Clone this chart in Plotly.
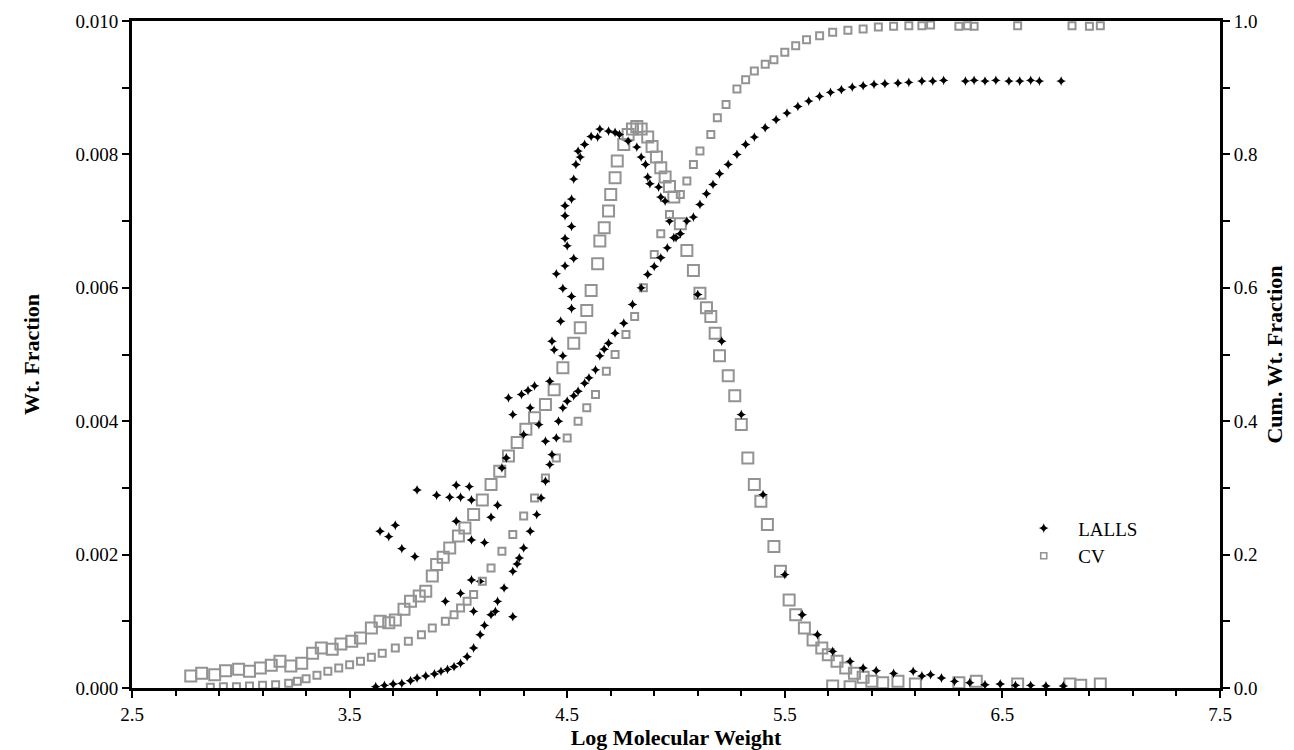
import plotly.graph_objects as go

# ---- data ----
lalls_diff_x = [3.64, 3.68, 3.71, 3.74, 3.80, 3.81, 3.90, 3.94, 3.96, 3.99, 3.99, 4.01, 4.01, 4.05, 4.06, 4.06,
                4.06, 4.07, 4.10, 4.12, 4.15, 4.17, 4.18, 4.20, 4.22, 4.23, 4.25, 4.27, 4.25, 4.29, 4.30, 4.32,
                4.33, 4.35, 4.37, 4.40, 4.42, 4.43, 4.44, 4.45, 4.47, 4.48, 4.48, 4.49, 4.49, 4.49, 4.49, 4.50,
                4.52, 4.52, 4.52, 4.52, 4.53, 4.53, 4.54, 4.55, 4.56, 4.58, 4.61, 4.64, 4.65, 4.69, 4.72, 4.74,
                4.78, 4.82, 4.84, 4.86, 4.87, 4.88, 4.92, 4.93, 4.95, 4.97, 4.99, 5.10, 5.21, 5.30, 5.40, 5.50,
                5.58, 5.65, 5.72, 5.80, 5.86, 5.92, 6.00, 6.09, 6.13, 6.17, 6.22, 6.28, 6.35, 6.42, 6.49, 6.56,
                6.63, 6.70, 6.78]
lalls_diff_y = [0.00235, 0.00227, 0.00244, 0.00209, 0.00197, 0.00297, 0.00289, 0.00130, 0.00286, 0.00304,
                0.00250, 0.00286, 0.00142, 0.00302, 0.00282, 0.00222, 0.00162, 0.00115, 0.00160, 0.00218,
                0.00256, 0.00115, 0.00274, 0.00330, 0.00345, 0.00435, 0.00107, 0.00186, 0.00410, 0.00440,
                0.00380, 0.00446, 0.00420, 0.00453, 0.00395, 0.00370, 0.00460, 0.00520, 0.00507, 0.00621,
                0.00550, 0.00498, 0.00599, 0.00633, 0.00674, 0.00708, 0.00723, 0.00663, 0.00569, 0.00587,
                0.00692, 0.00733, 0.00644, 0.00763, 0.00785, 0.00805, 0.00796, 0.00815, 0.00827, 0.00826,
                0.00838, 0.00835, 0.00833, 0.00830, 0.00820, 0.00811, 0.00796, 0.00785, 0.00766, 0.00756,
                0.00751, 0.00736, 0.00730, 0.00700, 0.00675, 0.00590, 0.00520, 0.00410, 0.00290, 0.00170,
                0.00110, 0.00080, 0.00055, 0.00040, 0.00030, 0.00026, 0.00022, 0.00025, 0.00018, 0.00020,
                0.00015, 0.00010, 0.00008, 0.00005, 0.00006, 0.00004, 0.00004, 0.00003, 0.00003]

cv_diff_x = [2.77, 2.82, 2.88, 2.93, 2.99, 3.04, 3.09, 3.14, 3.18, 3.23, 3.28, 3.33, 3.37, 3.42, 3.46, 3.51,
             3.55, 3.60, 3.64, 3.68, 3.71, 3.75, 3.78, 3.82, 3.85, 3.88, 3.90, 3.93, 3.96, 4.00, 4.03, 4.07,
             4.11, 4.15, 4.19, 4.23, 4.27, 4.31, 4.35, 4.40, 4.44, 4.48, 4.53, 4.56, 4.59, 4.61, 4.64, 4.65,
             4.67, 4.69, 4.70, 4.72, 4.73, 4.76, 4.78, 4.80, 4.82, 4.84, 4.87, 4.89, 4.91, 4.93, 4.95, 4.97,
             4.99, 5.02, 5.05, 5.08, 5.11, 5.14, 5.16, 5.18, 5.20, 5.24, 5.27, 5.30, 5.33, 5.36, 5.39, 5.42,
             5.45, 5.48, 5.52, 5.55, 5.59, 5.63, 5.67, 5.70, 5.72, 5.74, 5.78, 5.80, 5.82, 5.86, 5.90, 5.95,
             6.02, 6.10, 6.30, 6.38, 6.57, 6.81, 6.86, 6.95]
cv_diff_y = [0.00018, 0.00022, 0.00020, 0.00026, 0.00028, 0.00025, 0.00030, 0.00034, 0.00040, 0.00033,
             0.00037, 0.00052, 0.00060, 0.00058, 0.00066, 0.00070, 0.00075, 0.00090, 0.00100, 0.00098,
             0.00102, 0.00118, 0.00130, 0.00138, 0.00145, 0.00168, 0.00185, 0.00196, 0.00210, 0.00228,
             0.00240, 0.00260, 0.00282, 0.00305, 0.00325, 0.00348, 0.00368, 0.00388, 0.00405, 0.00425,
             0.00447, 0.00480, 0.00517, 0.00540, 0.00566, 0.00596, 0.00636, 0.00670, 0.00690, 0.00715,
             0.00740, 0.00765, 0.00790, 0.00815, 0.00830, 0.00838, 0.00842, 0.00838, 0.00826, 0.00812,
             0.00796, 0.00780, 0.00766, 0.00752, 0.00736, 0.00696, 0.00656, 0.00626, 0.00592, 0.00570,
             0.00557, 0.00532, 0.00498, 0.00468, 0.00438, 0.00395, 0.00345, 0.00305, 0.00280, 0.00245,
             0.00212, 0.00175, 0.00132, 0.00110, 0.00090, 0.00072, 0.00060, 0.00050, 0.00003, 0.00040,
             0.00030, 0.00002, 0.00022, 0.00016, 0.00010, 0.00008, 0.00010, 0.00006, 0.00008, 0.00010,
             0.00006, 0.00006, 0.00004, 0.00006]

lalls_cum_x = [3.62, 3.66, 3.70, 3.74, 3.78, 3.81, 3.85, 3.89, 3.92, 3.95, 3.98, 4.01, 4.04, 4.07, 4.10, 4.12,
               4.15, 4.18, 4.21, 4.25, 4.28, 4.30, 4.33, 4.36, 4.38, 4.40, 4.42, 4.43, 4.45, 4.46, 4.48, 4.50,
               4.53, 4.55, 4.58, 4.60, 4.63, 4.65, 4.67, 4.69, 4.72, 4.76, 4.80, 4.84, 4.87, 4.90, 4.93, 4.96,
               5.00, 5.02, 5.05, 5.08, 5.11, 5.14, 5.17, 5.20, 5.24, 5.28, 5.32, 5.36, 5.41, 5.46, 5.51, 5.56,
               5.61, 5.66, 5.71, 5.76, 5.81, 5.86, 5.91, 5.96, 6.02, 6.07, 6.13, 6.18, 6.23, 6.33, 6.37, 6.42,
               6.47, 6.53, 6.58, 6.63, 6.67, 6.77]
lalls_cum_y = [0.002, 0.004, 0.006, 0.007, 0.011, 0.015, 0.018, 0.021, 0.025, 0.028, 0.032, 0.037, 0.047,
               0.060, 0.080, 0.094, 0.110, 0.130, 0.150, 0.175, 0.195, 0.210, 0.235, 0.260, 0.285, 0.310,
               0.335, 0.350, 0.375, 0.400, 0.420, 0.430, 0.438, 0.445, 0.457, 0.465, 0.477, 0.498, 0.508,
               0.517, 0.532, 0.547, 0.575, 0.600, 0.620, 0.632, 0.645, 0.660, 0.675, 0.681, 0.700, 0.706,
               0.725, 0.741, 0.755, 0.771, 0.785, 0.800, 0.815, 0.826, 0.840, 0.852, 0.862, 0.872, 0.880,
               0.887, 0.893, 0.897, 0.901, 0.903, 0.905, 0.906, 0.907, 0.908, 0.910, 0.910, 0.911, 0.910,
               0.911, 0.910, 0.911, 0.910, 0.910, 0.911, 0.910, 0.910]

cv_cum_x = [2.86, 2.92, 2.98, 3.04, 3.10, 3.16, 3.22, 3.26, 3.30, 3.35, 3.40, 3.45, 3.50, 3.55, 3.60, 3.65,
            3.71, 3.77, 3.83, 3.88, 3.94, 3.98, 4.01, 4.04, 4.07, 4.11, 4.15, 4.20, 4.25, 4.30, 4.35, 4.40,
            4.45, 4.50, 4.55, 4.59, 4.63, 4.68, 4.72, 4.77, 4.81, 4.85, 4.90, 4.93, 4.97, 5.02, 5.05, 5.08,
            5.11, 5.16, 5.19, 5.23, 5.28, 5.32, 5.36, 5.41, 5.45, 5.50, 5.55, 5.60, 5.66, 5.72, 5.79, 5.86,
            5.93, 6.00, 6.07, 6.13, 6.17, 6.30, 6.34, 6.37, 6.57, 6.82, 6.90, 6.95]
cv_cum_y = [0.001, 0.002, 0.002, 0.003, 0.004, 0.005, 0.007, 0.010, 0.014, 0.019, 0.025, 0.030, 0.035,
            0.040, 0.046, 0.052, 0.060, 0.070, 0.080, 0.090, 0.100, 0.110, 0.120, 0.130, 0.140, 0.160,
            0.180, 0.205, 0.230, 0.258, 0.285, 0.315, 0.345, 0.375, 0.400, 0.420, 0.440, 0.475, 0.500,
            0.530, 0.557, 0.600, 0.650, 0.681, 0.710, 0.740, 0.760, 0.785, 0.805, 0.830, 0.855, 0.875,
            0.898, 0.912, 0.925, 0.935, 0.942, 0.953, 0.963, 0.972, 0.978, 0.983, 0.986, 0.988, 0.991,
            0.992, 0.993, 0.993, 0.994, 0.992, 0.993, 0.992, 0.993, 0.993, 0.992, 0.993]

x_ticks = [2.5, 3.5, 4.5, 5.5, 6.5, 7.5]
y_left_ticks = [0.0, 0.002, 0.004, 0.006, 0.008, 0.010]
y_right_ticks = [0.0, 0.2, 0.4, 0.6, 0.8, 1.0]

FONT = "Liberation Serif"
GRAY = "#939393"
NB = "\u00a0\u00a0"

fig = go.Figure()
fig.add_trace(go.Scatter(x=cv_diff_x, y=cv_diff_y, mode="markers", name="CV", showlegend=False,
                         marker=dict(symbol="square-open", size=11, color=GRAY, line=dict(width=2, color=GRAY))))
fig.add_trace(go.Scatter(x=cv_cum_x, y=cv_cum_y, mode="markers", name="CV", yaxis="y2", showlegend=False,
                         marker=dict(symbol="square-open", size=7, color=GRAY, line=dict(width=2, color=GRAY))))
fig.add_trace(go.Scatter(x=lalls_diff_x, y=lalls_diff_y, mode="markers", name=NB + "LALLS", showlegend=True,
                         marker=dict(symbol="star-diamond", size=7, color="black")))
fig.add_trace(go.Scatter(x=lalls_cum_x, y=lalls_cum_y, mode="markers", name="LALLS", yaxis="y2", showlegend=False,
                         marker=dict(symbol="star-diamond", size=7, color="black")))
# legend entry for CV
fig.add_trace(go.Scatter(x=[None], y=[None], mode="markers", name=NB + "CV", showlegend=True,
                         marker=dict(symbol="square-open", size=6, color=GRAY, line=dict(width=1.6, color=GRAY))))

axis_common = dict(showgrid=False, zeroline=False, showline=True, linecolor="black", linewidth=3,
                   ticks="outside", ticklen=7, tickwidth=2, tickcolor="black",
                   tickfont=dict(family=FONT, size=19, color="black"))

TITLE_FONT = dict(family=FONT, size=22, color="black", weight="bold")

fig.update_layout(
    width=1294, height=750,
    margin=dict(l=124, r=82, t=13, b=70, autoexpand=False),
    plot_bgcolor="white", paper_bgcolor="white",
    font=dict(family=FONT, size=19, color="black"),
    xaxis=dict(range=[2.5, 7.5], tickvals=x_ticks, ticktext=[f"{v:.1f}" for v in x_ticks],
               mirror=True,
               minor=dict(dtick=0.2, tick0=2.5, ticks="outside", ticklen=5, tickwidth=2, tickcolor="black"),
               title=dict(text="Log Molecular Weight", standoff=0, font=TITLE_FONT),
               **axis_common),
    yaxis=dict(range=[0, 0.010], tickvals=y_left_ticks, ticktext=[f"{v:.3f}" for v in y_left_ticks],
               minor=dict(dtick=0.001, tick0=0, ticks="outside", ticklen=7, tickwidth=2, tickcolor="black"),
               title=dict(text="Wt. Fraction", standoff=30, font=TITLE_FONT),
               **axis_common),
    yaxis2=dict(range=[0, 1.0], overlaying="y", side="right", tickvals=y_right_ticks,
                ticktext=[f"{v:.1f}" for v in y_right_ticks],
                minor=dict(dtick=0.1, tick0=0, ticks="outside", ticklen=7, tickwidth=2, tickcolor="black"),
                title=dict(text="Cum. Wt. Fraction", standoff=10, font=TITLE_FONT),
                **axis_common),
    legend=dict(x=0.815, y=0.268, xanchor="left", yanchor="top", bgcolor="rgba(0,0,0,0)",
                font=dict(family=FONT, size=19, color="black"), tracegroupgap=0, itemwidth=40),
)

fig.write_html("out.html")
